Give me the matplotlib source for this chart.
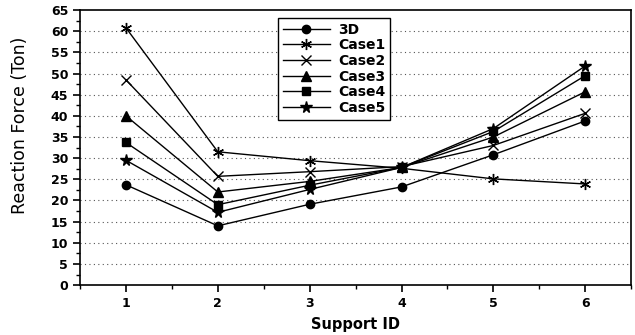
import matplotlib
matplotlib.use("Agg")
import matplotlib.pyplot as plt
from matplotlib import ticker

plt.rcParams["font.family"] = ["DejaVu Sans"]

# Data
support_ids = [1, 2, 3, 4, 5, 6]
force_3d = [23.7, 14.0, 19.1, 23.2, 30.8, 38.8]
force_case1 = [60.8, 31.5, 29.4, 27.6, 25.1, 23.9]
force_case2 = [48.5, 25.7, 26.8, 28.0, 33.0, 40.6]
force_case3 = [40.0, 22.0, 24.5, 27.8, 35.0, 45.7]
force_case4 = [33.7, 19.0, 23.6, 27.8, 36.3, 49.5]
force_case5 = [29.5, 17.2, 22.6, 27.8, 37.0, 51.8]

series = [
    ("3D", force_3d, "o", 6),
    ("Case1", force_case1, (6, 2, 0), 8),
    ("Case2", force_case2, "x", 7),
    ("Case3", force_case3, "^", 6.5),
    ("Case4", force_case4, "s", 6),
    ("Case5", force_case5, "*", 8.5),
]

fig = plt.figure(figsize=(6.35, 3.35), dpi=100)
ax = fig.add_axes([0.126, 0.149, 0.868, 0.821])

for label, values, marker, size in series:
    ax.plot(support_ids, values, color="black", linewidth=1.0,
            marker=marker, markersize=size, markeredgewidth=1.0,
            label=label)

ax.set_xlim(0.5, 6.5)
ax.set_ylim(0, 65)
ax.xaxis.set_major_locator(ticker.MultipleLocator(1))
ax.xaxis.set_minor_locator(ticker.MultipleLocator(0.5))
ax.yaxis.set_major_locator(ticker.MultipleLocator(5))
ax.yaxis.set_minor_locator(ticker.MultipleLocator(2.5))

for y in range(5, 65, 5):
    ax.axhline(y, color="#555555", linestyle=(0, (1, 3)), linewidth=0.8, zorder=0)

ax.tick_params(which="major", direction="out", length=5, width=1.2, labelsize=9)
ax.tick_params(which="minor", direction="out", length=3, width=1.0)
ax.tick_params(top=False, right=False)
for lbl in ax.get_xticklabels() + ax.get_yticklabels():
    lbl.set_fontweight("bold")
for spine in ax.spines.values():
    spine.set_linewidth(1.2)

ax.set_xlabel("Support ID", fontsize=10.5, fontweight="bold")
ax.xaxis.set_label_coords(0.5, -0.115)
ax.set_ylabel("Reaction Force (Ton)", fontsize=12.5)
ax.yaxis.set_label_coords(-0.093, 0.58)

leg = ax.legend(loc="upper left", bbox_to_anchor=(0.359, 0.972),
                prop={"size": 10, "weight": "bold"},
                frameon=True, fancybox=False, framealpha=1,
                edgecolor="black", handlelength=3.4, labelspacing=0.12,
                borderpad=0.35, handletextpad=0.6, borderaxespad=0)
leg.get_frame().set_linewidth(1.0)

fig.savefig("out.png", dpi=100)
